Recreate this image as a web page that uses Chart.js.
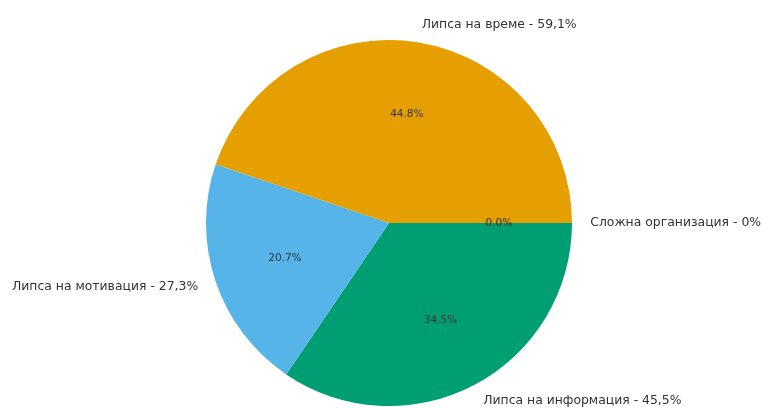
<!DOCTYPE html>
<html>
<head>
<meta charset="utf-8">
<script src="https://cdn.jsdelivr.net/npm/chart.js@4"></script>
<style>
  html, body { margin: 0; padding: 0; background: #fff; }
  #wrap { width: 763px; height: 408px; }
</style>
</head>
<body>
<div id="wrap"><canvas id="pie"></canvas></div>
<script>
// ================= DATA =================
const categories = ["Липса на време", "Липса на мотивация", "Липса на информация", "Сложна организация"];
const values = [59.1, 27.3, 45.5, 0];
const colors = ["#E69F00", "#56B4E9", "#009E73", "#F0E442"];

// matplotlib draws counter-clockwise from east, Chart.js clockwise -> reverse order
const order = categories.map((_, i) => i).reverse();
const total = values.reduce((a, b) => a + b, 0);

const outerLabel = i => `${categories[i]} - ${String(values[i]).replace(".", ",")}%`;
const pctLabel = i => (values[i] / total * 100).toFixed(1) + "%";

// ================= LABEL PLUGIN =================
const pieLabels = {
  id: "pieLabels",
  afterDatasetsDraw(chart) {
    const ctx = chart.ctx;
    const meta = chart.getDatasetMeta(0);
    ctx.save();
    ctx.fillStyle = "#333";
    ctx.textBaseline = "middle";
    meta.data.forEach((arc, k) => {
      const i = order[k];
      const mid = (arc.startAngle + arc.endAngle) / 2;
      const r = arc.outerRadius;
      const cx = arc.x, cy = arc.y;

      // outside label
      ctx.font = "12.4px 'DejaVu Sans'";
      const lx = cx + Math.cos(mid) * r * 1.1;
      const ly = cy + Math.sin(mid) * r * 1.1;
      ctx.textAlign = Math.cos(mid) >= 0 ? "left" : "right";
      ctx.fillText(outerLabel(i), lx, ly);

      // percentage
      ctx.font = "10.5px 'DejaVu Sans'";
      ctx.textAlign = "center";
      ctx.fillText(pctLabel(i), cx + Math.cos(mid) * r * 0.6, cy + Math.sin(mid) * r * 0.6);
    });
    ctx.restore();
  }
};

// ================= CHART =================
new Chart(document.getElementById("pie"), {
  type: "pie",
  data: {
    labels: order.map(i => categories[i]),
    datasets: [{
      data: order.map(i => values[i]),
      backgroundColor: order.map(i => colors[i]),
      borderWidth: 0
    }]
  },
  options: {
    responsive: true,
    maintainAspectRatio: false,
    animation: false,
    rotation: 90,
    layout: { padding: { left: 15, right: 0, top: 40, bottom: 2 } },
    plugins: {
      legend: { display: false },
      tooltip: { enabled: false }
    }
  },
  plugins: [pieLabels]
});
</script>
</body>
</html>
